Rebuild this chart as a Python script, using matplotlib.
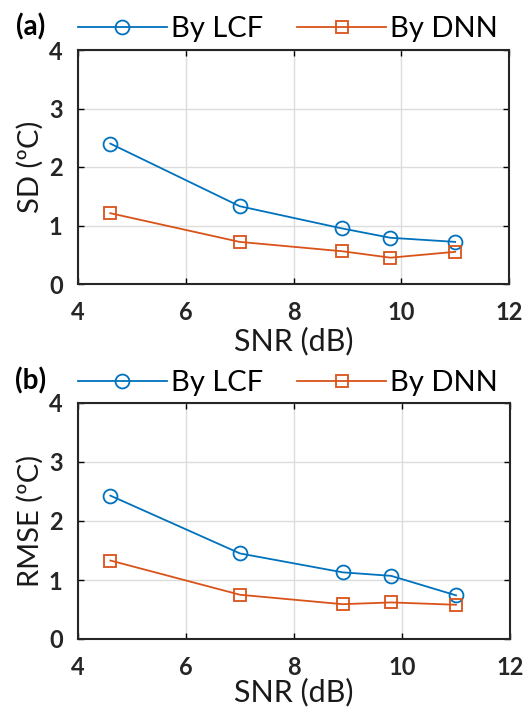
import matplotlib
matplotlib.use("Agg")
import matplotlib.pyplot as plt
from matplotlib.lines import Line2D

plt.rcParams['font.family'] = ['Lato', 'DejaVu Sans']

snr_db = [4.6, 7.0, 8.9, 9.8, 11.0]
sd_lcf = [2.40, 1.33, 0.95, 0.79, 0.72]
sd_dnn = [1.21, 0.72, 0.56, 0.45, 0.55]
rmse_lcf = [2.43, 1.45, 1.13, 1.07, 0.74]
rmse_dnn = [1.33, 0.75, 0.59, 0.62, 0.58]

x_ticks = [4, 6, 8, 10, 12]
y_ticks = [0, 1, 2, 3, 4]

blue = '#0072BD'
orange = '#D95319'

W, H = 529, 713
fig = plt.figure(figsize=(W / 100, H / 100), dpi=100)

def px_axes(left, top, right, bottom):
    return fig.add_axes([left / W, 1 - bottom / H, (right - left) / W, (bottom - top) / H])

# (axes, series, y label, panel tag, tag y, legend y, x-label offset)
panels = [
    (px_axes(78, 50, 509, 284), sd_lcf, sd_dnn, 'SD (ºC)', '(a)', 27, 29, -0.244),
    (px_axes(78, 403, 510, 639), rmse_lcf, rmse_dnn, 'RMSE (ºC)', '(b)', 381, 383, -0.225),
]

for ax, lcf, dnn, ylab, tag, tag_y, leg_y, xlab_y in panels:
    ax.plot(snr_db, lcf, '-o', color=blue, lw=1.3, ms=10, mfc='none', mew=1.3)
    ax.plot(snr_db, dnn, '-s', color=orange, lw=1.3, ms=8, mfc='none', mew=1.3)
    ax.set_xlim(4, 12)
    ax.set_ylim(0, 4)
    ax.set_xticks(x_ticks)
    ax.set_yticks(y_ticks)
    ax.set_xticklabels([str(t) for t in x_ticks], fontsize=17, fontweight='bold', color='#262626')
    ax.set_yticklabels([str(t) for t in y_ticks], fontsize=17, fontweight='bold', color='#262626')
    ax.tick_params(axis='x', direction='in', top=True, length=4, width=1, pad=12)
    ax.tick_params(axis='y', direction='in', right=True, length=4, width=1, pad=11)
    ax.grid(True, color='#dcdcdc', lw=1)
    ax.set_axisbelow(True)
    for s in ax.spines.values():
        s.set_linewidth(1.5)
        s.set_color('#262626')
    ax.set_xlabel('SNR (dB)', fontsize=22, color='#1a1a1a')
    ax.xaxis.set_label_coords(0.5, xlab_y)
    ax.xaxis.label.set_va('center')
    ax.set_ylabel(ylab, fontsize=21, color='#1a1a1a')
    ax.yaxis.set_label_coords(-0.111, 0.5)
    ax.yaxis.label.set_va('center')
    handles = [
        Line2D([], [], color=blue, marker='o', lw=1.3, ms=10, mfc='none', mew=1.3),
        Line2D([], [], color=orange, marker='s', lw=1.3, ms=8, mfc='none', mew=1.3),
    ]
    fig.legend(handles, ['By LCF', 'By DNN'], loc='center',
               bbox_to_anchor=(288 / W, 1 - leg_y / H), bbox_transform=fig.transFigure,
               ncol=2, frameon=False, fontsize=21, handlelength=3.05, handletextpad=0.15,
               columnspacing=1.15, borderpad=0.0, borderaxespad=0.0)
    fig.text(31 / W, 1 - tag_y / H, tag, fontsize=20, fontweight='bold',
             ha='center', va='center')

fig.savefig('out.png', dpi=100)
